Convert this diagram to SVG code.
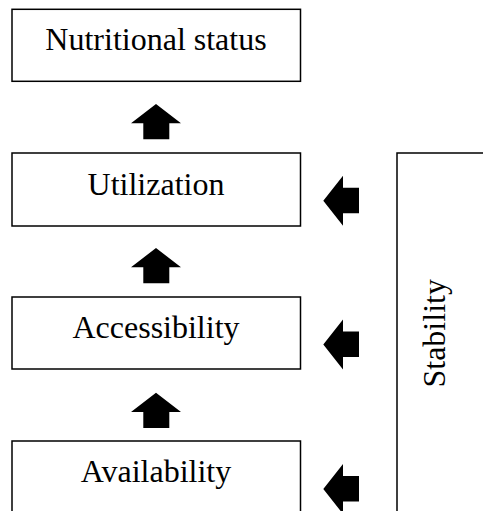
<svg xmlns="http://www.w3.org/2000/svg" width="483" height="511" viewBox="0 0 483 511">
<defs>
<style>
.box{fill:#fff;stroke:#000;stroke-width:1.5}
.lbl{font-family:"Liberation Serif","Times New Roman",serif;font-size:32px;fill:#000;text-anchor:middle}
.arr{fill:#000;stroke:none}
</style>
</defs>
<rect width="483" height="511" fill="#fff"/>
<g id="stability">
<rect class="box" x="397" y="153" width="200" height="500"/>
<text class="lbl" transform="translate(445,333.3) rotate(-90)">Stability</text>
</g>
<g id="nutritional-status">
<rect class="box" x="12" y="9.3" width="288.5" height="72"/>
<text class="lbl" x="156" y="50">Nutritional status</text>
</g>
<g id="utilization">
<rect class="box" x="12" y="153" width="288.5" height="73"/>
<text class="lbl" x="156" y="194.5">Utilization</text>
</g>
<g id="accessibility">
<rect class="box" x="12" y="297" width="288.5" height="72"/>
<text class="lbl" x="156" y="338.3">Accessibility</text>
</g>
<g id="availability">
<rect class="box" x="12" y="441" width="288.5" height="100"/>
<text class="lbl" x="156" y="482.3">Availability</text>
</g>
<g id="connectors">
<polygon class="arr" points="156,104 181,123.3 169.3,123.3 169.3,139.3 143.3,139.3 143.3,123.3 131,123.3"/>
<polygon class="arr" points="156,248 181,267.3 169.3,267.3 169.3,283.3 143.3,283.3 143.3,267.3 131,267.3"/>
<polygon class="arr" points="156,392.7 181,412 169.3,412 169.3,428 143.3,428 143.3,412 131,412"/>
<polygon class="arr" points="323.3,200.7 343,175.7 343,187.7 359,187.7 359,213.3 343,213.3 343,225.7"/>
<polygon class="arr" points="323.3,344.5 343,319.5 343,331.5 359,331.5 359,357.1 343,357.1 343,369.5"/>
<polygon class="arr" points="323.3,489 343,464 343,476 359,476 359,501.6 343,501.6 343,514"/>
</g>
</svg>
